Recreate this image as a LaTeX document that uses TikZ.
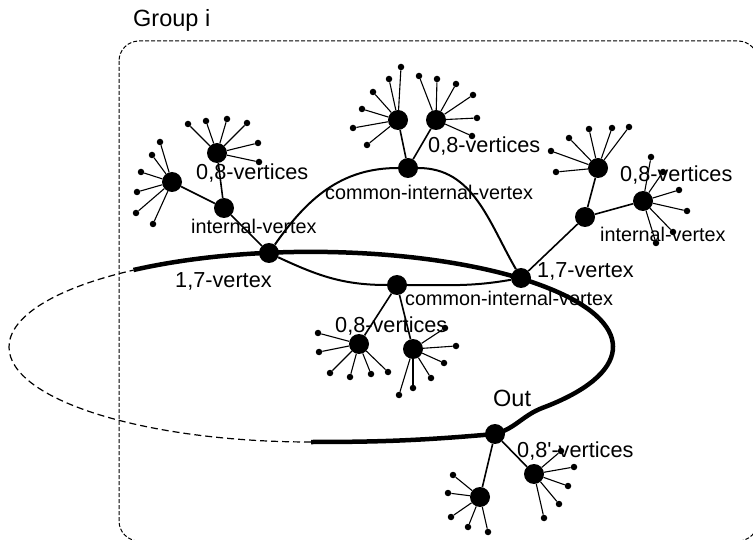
\documentclass[tikz,border=0pt]{standalone}
\usepackage{fontspec}
\setmainfont{Liberation Sans}
\tikzset{
  hub/.style={circle,fill,inner sep=0pt,minimum size=20pt},
  leaf/.style={circle,fill,inner sep=0pt,minimum size=6.5pt},
  twig/.style={line width=1.1pt},
  link/.style={line width=1.6pt},
  arcln/.style={line width=2pt},
  rim/.style={line width=4.5pt},
  lbl/.style={anchor=base west,inner sep=0pt,font=\fontsize{21.7}{26}\selectfont},
  sml/.style={anchor=base west,inner sep=0pt,font=\fontsize{19.8}{24}\selectfont},
  big/.style={anchor=base west,inner sep=0pt,font=\fontsize{23.5}{28}\selectfont}
}

\begin{document}
\begin{tikzpicture}[x=1pt,y=-1pt]
\useasboundingbox (0,0) rectangle (753,540);

% group frame
\draw[line width=1pt,dash pattern=on 4pt off 2pt,rounded corners=20pt] (119,41) rectangle (758,541);
\node[big] (grp) at (133,27) {Group i};

% the cycle, thick part and dashed part
\coordinate (s) at (133.5,270);
\coordinate (o) at (495,434);
\coordinate (e) at (311,442);
\draw[rim] (s) arc[start angle=234,end angle=400,x radius=302,y radius=95]
  to[out=-159,in=15] (o) to[out=-175,in=0] (e);
\draw[line width=1.2pt,dash pattern=on 7pt off 4pt] (e) arc[start angle=90,end angle=234,x radius=302,y radius=95];

% vertices on and inside the cycle
\node[hub] (v17a) at (269,253) {};
\node[hub] (v17b) at (521,278) {};
\node[hub] (cva) at (408,168) {};
\node[hub] (cvb) at (397,285) {};
\node[hub] (out) at (o) {};
\node[hub] (iva) at (224,208) {};
\node[hub] (ivb) at (585,217) {};

\draw[arcln] (v17a) to[out=55,in=180] (cva) to[out=0,in=120] (v17b);
\draw[arcln] (v17a) to[out=-25,in=180] (cvb) to[out=0,in=-170] (v17b);

% hubs of the 0,8-vertices
\node[hub] (h1) at (217,153) {};
\node[hub] (h2) at (172,182) {};
\node[hub] (h3) at (398,120) {};
\node[hub] (h4) at (436,120) {};
\node[hub] (h5) at (598,168) {};
\node[hub] (h6) at (643,201) {};
\node[hub] (h7) at (359,344) {};
\node[hub] (h8) at (413,349) {};
\node[hub] (h9) at (480,497) {};
\node[hub] (h10) at (534,474) {};

\draw[link] (h1) -- (iva);
\draw[link] (h2) -- (iva);
\draw[link] (iva) -- (v17a);
\draw[link] (h3) -- (cva);
\draw[link] (h4) -- (cva);
\draw[link] (h5) -- (ivb);
\draw[link] (h6) -- (ivb);
\draw[link] (ivb) -- (v17b);
\draw[link] (cvb) -- (h7);
\draw[link] (cvb) -- (h8);
\draw[link] (out) -- (h9);
\draw[link] (out) -- (h10);

% leaves
\foreach \h/\pts in {
  h1/{(188,124),(206,121),(227,119),(247,123),(258,143),(259,162)},
  h2/{(160,142),(152,155),(141,172),(137,192),(136,213),(153,224)},
  h3/{(401,67),(389,79),(373,92),(362,109),(353,128),(367,145)},
  h4/{(419,76),(437,79),(456,84),(473,95),(477,118),(472,136)},
  h5/{(551,151),(569,138),(589,129),(612,128),(629,127),(556,172)},
  h6/{(651,157),(663,172),(679,190),(687,211),(673,232),(656,243)},
  h7/{(318,333),(319,352),(330,373),(350,377),(371,374),(388,372)},
  h8/{(445,328),(456,346),(444,363),(431,378),(413,388),(399,395)},
  h9/{(453,475),(448,493),(451,517),(468,527),(488,532)},
  h10/{(561,451),(574,467),(568,486),(559,504),(544,518)}}{
  \foreach \p [count=\k] in \pts {
    \node[leaf] (\h-\k) at \p {};
    \draw[twig] (\h) -- (\h-\k);
  }
}

% labels
\node[lbl] (t08a) at (196,180) {0,8-vertices};
\node[sml] (tiva) at (191,234) {internal-vertex};
\node[lbl] (t17a) at (175,288) {1,7-vertex};
\node[lbl] (t08b) at (428,153) {0,8-vertices};
\node[sml] (tcva) at (325,200) {common-internal-vertex};
\node[lbl] (t08c) at (620,182) {0,8-vertices};
\node[sml] (tivb) at (600,242) {internal-vertex};
\node[lbl] (t17b) at (537,278) {1,7-vertex};
\node[sml] (tcvb) at (405,306) {common-internal-vertex};
\node[lbl] (t08d) at (335,333) {0,8-vertices};
\node[big] (tout) at (493,406) {Out};
\node[lbl] (t08e) at (517,457) {0,8\textquotesingle-vertices};

\end{tikzpicture}
\end{document}
